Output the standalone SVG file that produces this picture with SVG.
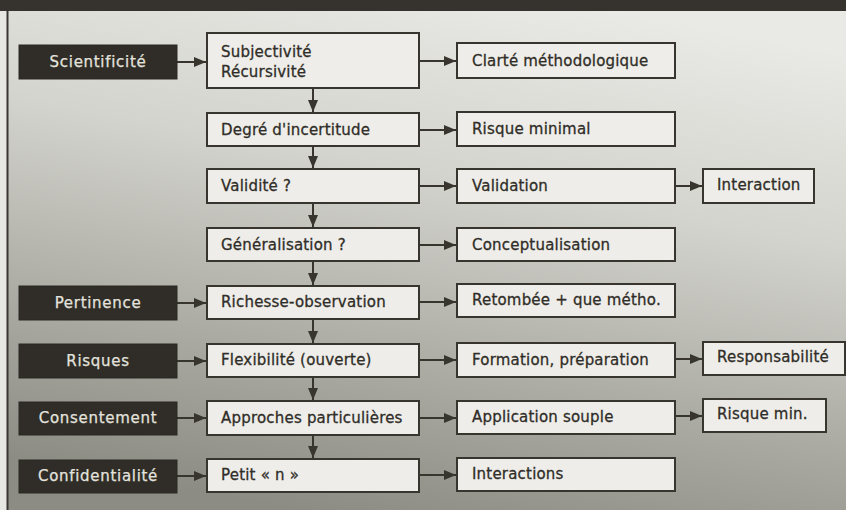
<svg xmlns="http://www.w3.org/2000/svg" width="846" height="510" viewBox="0 0 846 510">
<defs>
<linearGradient id="bg" x1="0.65" y1="0" x2="0.35" y2="1">
<stop offset="0" stop-color="#e9e9e5"/>
<stop offset="0.35" stop-color="#d4d4ce"/>
<stop offset="0.7" stop-color="#acaca5"/>
<stop offset="1" stop-color="#8c8c85"/>
</linearGradient>
<marker id="ah" viewBox="0 0 12 10" refX="12" refY="5" markerWidth="12" markerHeight="10" markerUnits="userSpaceOnUse" orient="auto">
<path d="M0,0 L12,5 L0,10 z" fill="#38352f"/>
</marker>
<style>
.lb{fill:#302d28;stroke:#2a2823;stroke-width:1}
.lt{fill:#e4e3de;stroke:#e4e3de;stroke-width:0.25;font-family:"DejaVu Sans","Liberation Sans",sans-serif;font-size:15px;letter-spacing:0.7px;text-anchor:middle}
.b{fill:#eeede9;stroke:#38352f;stroke-width:2}
.t{fill:#302d28;stroke:#302d28;stroke-width:0.3;font-family:"DejaVu Sans","Liberation Sans",sans-serif;font-size:15px;letter-spacing:0.2px}
.c{stroke:#38352f;stroke-width:2;fill:none;marker-end:url(#ah)}
</style>
</defs>
<rect x="0" y="0" width="846" height="510" fill="url(#bg)"/>
<rect x="0" y="0" width="7" height="510" fill="#e6e6e2"/>
<line x1="7.5" y1="0" x2="7.5" y2="510" stroke="#3a3732" stroke-width="2"/>
<rect x="0" y="0" width="846" height="11" fill="#36332e"/>

<g id="connectors">
<line class="c" x1="177" y1="62" x2="206" y2="62"/>
<line class="c" x1="177" y1="303" x2="206" y2="303"/>
<line class="c" x1="177" y1="361" x2="206" y2="361"/>
<line class="c" x1="177" y1="418" x2="206" y2="418"/>
<line class="c" x1="177" y1="476" x2="206" y2="476"/>

<line class="c" x1="420" y1="61" x2="456" y2="61"/>
<line class="c" x1="420" y1="130" x2="456" y2="130"/>
<line class="c" x1="420" y1="186" x2="456" y2="186"/>
<line class="c" x1="420" y1="245" x2="456" y2="245"/>
<line class="c" x1="420" y1="302" x2="456" y2="302"/>
<line class="c" x1="420" y1="360" x2="456" y2="360"/>
<line class="c" x1="420" y1="418" x2="456" y2="418"/>
<line class="c" x1="420" y1="475" x2="456" y2="475"/>

<line class="c" x1="676" y1="186" x2="702" y2="186"/>
<line class="c" x1="676" y1="359" x2="702" y2="359"/>
<line class="c" x1="676" y1="416" x2="702" y2="416"/>

<line class="c" x1="313" y1="88" x2="313" y2="112"/>
<line class="c" x1="313" y1="146" x2="313" y2="168"/>
<line class="c" x1="313" y1="203" x2="313" y2="227"/>
<line class="c" x1="313" y1="261" x2="313" y2="285"/>
<line class="c" x1="313" y1="319" x2="313" y2="343"/>
<line class="c" x1="313" y1="377" x2="313" y2="400"/>
<line class="c" x1="313" y1="435" x2="313" y2="458"/>
</g>

<g id="scientificite"><rect class="lb" x="19" y="45" width="158" height="34"/><text class="lt" x="98" y="67">Scientificité</text></g>
<g id="pertinence"><rect class="lb" x="19" y="286" width="158" height="34"/><text class="lt" x="98" y="308">Pertinence</text></g>
<g id="risques"><rect class="lb" x="19" y="344" width="158" height="34"/><text class="lt" x="98" y="366">Risques</text></g>
<g id="consentement"><rect class="lb" x="19" y="402" width="158" height="33"/><text class="lt" x="98" y="423">Consentement</text></g>
<g id="confidentialite"><rect class="lb" x="19" y="460" width="158" height="33"/><text class="lt" x="98" y="481">Confidentialité</text></g>

<g id="subjectivite"><rect class="b" x="207" y="33" width="212" height="55"/><text class="t" x="221" y="57">Subjectivité</text><text class="t" x="221" y="77">Récursivité</text></g>
<g id="degre"><rect class="b" x="207" y="113" width="212" height="33"/><text class="t" x="221" y="135">Degré d'incertitude</text></g>
<g id="validite"><rect class="b" x="207" y="169" width="212" height="34"/><text class="t" x="221" y="191">Validité ?</text></g>
<g id="generalisation"><rect class="b" x="207" y="228" width="212" height="33"/><text class="t" x="221" y="250">Généralisation ?</text></g>
<g id="richesse"><rect class="b" x="207" y="286" width="212" height="33"/><text class="t" x="221" y="307">Richesse-observation</text></g>
<g id="flexibilite"><rect class="b" x="207" y="344" width="212" height="33"/><text class="t" x="221" y="365">Flexibilité (ouverte)</text></g>
<g id="approches"><rect class="b" x="207" y="401" width="212" height="34"/><text class="t" x="221" y="423">Approches particulières</text></g>
<g id="petitn"><rect class="b" x="207" y="459" width="212" height="33"/><text class="t" x="221" y="480">Petit « n »</text></g>

<g id="clarte"><rect class="b" x="457" y="43" width="218" height="35"/><text class="t" x="472" y="66">Clarté méthodologique</text></g>
<g id="risqueminimal"><rect class="b" x="457" y="112" width="218" height="34"/><text class="t" x="472" y="134">Risque minimal</text></g>
<g id="validation"><rect class="b" x="457" y="169" width="218" height="34"/><text class="t" x="472" y="191">Validation</text></g>
<g id="conceptualisation"><rect class="b" x="457" y="228" width="218" height="33"/><text class="t" x="472" y="250">Conceptualisation</text></g>
<g id="retombee"><rect class="b" x="457" y="284" width="218" height="33"/><text class="t" x="472" y="305">Retombée + que métho.</text></g>
<g id="formation"><rect class="b" x="457" y="343" width="218" height="34"/><text class="t" x="472" y="365">Formation, préparation</text></g>
<g id="application"><rect class="b" x="457" y="401" width="218" height="33"/><text class="t" x="472" y="422">Application souple</text></g>
<g id="interactions"><rect class="b" x="457" y="458" width="218" height="33"/><text class="t" x="472" y="479">Interactions</text></g>

<g id="interaction"><rect class="b" x="703" y="169" width="111" height="34"/><text class="t" x="717" y="190">Interaction</text></g>
<g id="responsabilite"><rect class="b" x="703" y="342" width="142" height="33"/><text class="t" x="717" y="362">Responsabilité</text></g>
<g id="risquemin"><rect class="b" x="703" y="399" width="123" height="33"/><text class="t" x="717" y="419">Risque min.</text></g>
</svg>
